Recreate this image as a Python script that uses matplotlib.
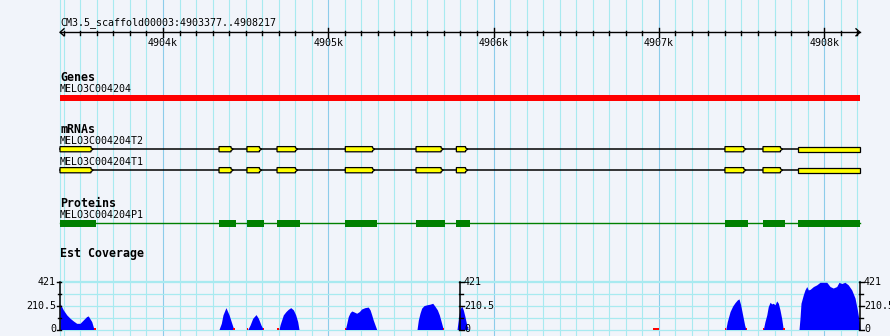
import matplotlib
matplotlib.use("Agg")
import matplotlib.pyplot as plt
from matplotlib.patches import Polygon, Rectangle

# ---------------- data ----------------
seq_name = "CM3.5_scaffold00003"
view_start, view_end = 4903377, 4908217
ruler_major = [4904000, 4905000, 4906000, 4907000, 4908000]
ruler_labels = ["4904k", "4905k", "4906k", "4907k", "4908k"]

gene_name = "MELO3C004204"
transcript_names = ["MELO3C004204T2", "MELO3C004204T1"]
protein_name = "MELO3C004204P1"

mrna_exon_starts = [4903377, 4904339, 4904508, 4904690, 4905103, 4905531, 4905775, 4907400, 4907630, 4907842]
mrna_exon_ends   = [4903578, 4904425, 4904597, 4904815, 4905281, 4905696, 4905844, 4907527, 4907749, 4908217]

cds_starts = [4903377, 4904339, 4904508, 4904690, 4905101, 4905531, 4905773, 4907400, 4907630, 4907842]
cds_ends   = [4903595, 4904442, 4904611, 4904829, 4905295, 4905706, 4905857, 4907539, 4907763, 4908217]

cov_max = 421
cov_ticks = [0, 210.5, 421]
cov_tick_labels = ["0", "210.5", "421"]

cov1_pos = [4903377, 4903380, 4903397, 4903418, 4903438, 4903458, 4903478, 4903498, 4903518, 4903538, 4903548, 4903569, 4903583]
cov1_val = [228, 225, 175, 130, 100, 76, 55, 55, 85, 115, 121, 70, 0]
cov2_pos = [4904339, 4904353, 4904363, 4904381, 4904400, 4904413, 4904423, 4904430]
cov2_val = [0, 55, 130, 195, 130, 70, 25, 0]
cov3_pos = [4904513, 4904527, 4904543, 4904563, 4904577, 4904593, 4904607]
cov3_val = [0, 40, 100, 133, 100, 40, 0]
cov4_pos = [4904702, 4904708, 4904728, 4904744, 4904758, 4904773, 4904789, 4904803, 4904815, 4904823]
cov4_val = [0, 40, 130, 160, 180, 195, 175, 130, 70, 0]
cov5_pos = [4905103, 4905112, 4905121, 4905132, 4905142, 4905151, 4905172, 4905188, 4905202, 4905222, 4905242, 4905253, 4905263, 4905272, 4905283, 4905293]
cov5_val = [0, 55, 115, 150, 165, 160, 145, 160, 183, 195, 200, 175, 130, 85, 40, 0]
cov6_pos = [4905537, 4905545, 4905555, 4905565, 4905579, 4905596, 4905616, 4905632, 4905646, 4905660, 4905672, 4905686, 4905696]
cov6_val = [0, 85, 145, 190, 213, 220, 226, 234, 206, 175, 130, 55, 0]
cov7_pos = [4905779, 4905789, 4905797, 4905807, 4905817, 4905827, 4905838, 4905847]
cov7_val = [0, 115, 180, 210, 175, 115, 40, 0]
cov8_pos = [4907405, 4907414, 4907431, 4907447, 4907461, 4907475, 4907485, 4907495, 4907507, 4907519, 4907527]
cov8_val = [0, 70, 160, 210, 240, 264, 273, 220, 130, 40, 0]
cov9_pos = [4907632, 4907642, 4907653, 4907662, 4907673, 4907683, 4907692, 4907703, 4907713, 4907723, 4907733, 4907743, 4907753]
cov9_val = [0, 70, 130, 204, 243, 228, 234, 220, 255, 234, 175, 100, 0]
cov10_pos = [4907848, 4907854, 4907860, 4907874, 4907884, 4907895, 4907904, 4907915, 4907935, 4907955, 4907975, 4907995, 4908016, 4908036, 4908055, 4908076, 4908090, 4908106, 4908126, 4908146, 4908167, 4908187, 4908201, 4908213, 4908217]
cov10_val = [0, 100, 234, 309, 353, 383, 353, 358, 383, 398, 421, 421, 421, 383, 370, 383, 421, 410, 421, 398, 353, 280, 175, 70, 0]

low_starts = [4903583, 4904425, 4904508, 4904603, 4904692, 4905101, 4905692, 4906965, 4907400, 4907525, 4907628, 4907753]
low_ends   = [4903592, 4904434, 4904516, 4904611, 4904702, 4905107, 4905700, 4907001, 4907405, 4907531, 4907634, 4907761]

# ---------------- style / layout ----------------
W, H = 890, 336
BG = "#F1F4FA"
GRID_MINOR = "#A8EAF0"
GRID_MAJOR = "#8CCCEA"
LEFT_PX, RIGHT_PX = 60, 860
bpp = (view_end - view_start) / (RIGHT_PX - LEFT_PX)   # bp per pixel

def px2bp(x):
    return view_start + (x - LEFT_PX) * bpp

REG = dict(family="DejaVu Sans Mono", fontsize=7.2)
BOLD = dict(family="DejaVu Sans Mono", fontsize=8.4, fontweight="bold")

fig = plt.figure(figsize=(W / 100, H / 100), dpi=100, facecolor=BG)
ax = fig.add_axes([0, 0, 1, 1])
ax.set_xlim(px2bp(0), px2bp(W))
ax.set_ylim(H, 0)
ax.axis("off")
ax.set_facecolor(BG)

# vertical grid lines
first = (view_start // 100 + 1) * 100
g = first
while g <= view_end:
    col = GRID_MAJOR if g % 1000 == 0 else GRID_MINOR
    ax.plot([g, g], [0, H], color=col, lw=0.8, zorder=0)
    g += 100
ax.plot([view_start, view_start], [0, H], color=GRID_MINOR, lw=0.8, zorder=0)

# ---- ruler ----
ax.text(view_start, 25, f"{seq_name}:{view_start}..{view_end}", ha="left", va="baseline", color="black", **REG)
ax.plot([view_start, view_end], [32.3, 32.3], color="black", lw=1.0, zorder=3)
ax.plot([px2bp(64), view_start, px2bp(64)], [28.8, 32.3, 35.8], color="black", lw=1.0, zorder=3)
ax.plot([px2bp(856), view_end, px2bp(856)], [28.8, 32.3, 35.8], color="black", lw=1.0, zorder=3)
t = first
while t < view_end:
    if t % 1000 == 0:
        ax.plot([t, t], [28.3, 36.7], color="black", lw=1.0, zorder=3)
    else:
        ax.plot([t, t], [30.5, 34.5], color="black", lw=1.0, zorder=3)
    t += 100
for pos, lab in zip(ruler_major, ruler_labels):
    ax.text(pos, 46, lab, ha="center", va="baseline", color="black", **REG)

# ---- genes ----
ax.text(view_start, 80.7, "Genes", ha="left", va="baseline", **BOLD)
ax.text(view_start, 91.7, gene_name, ha="left", va="baseline", **REG)
ax.add_patch(Rectangle((view_start, 95), view_end - view_start, 6, facecolor="#FF0000", edgecolor="none", zorder=3))

# ---- mRNAs ----
ax.text(view_start, 132.7, "mRNAs", ha="left", va="baseline", **BOLD)
d = 2.2 * bpp
for name, yc, yl in zip(transcript_names, [149.2, 170.2], [144, 165]):
    ax.text(view_start, yl, name, ha="left", va="baseline", **REG)
    ax.plot([view_start, view_end], [yc, yc], color="black", lw=1.1, zorder=3)
    for s, e in zip(mrna_exon_starts, mrna_exon_ends):
        top, bot = yc - 2.6, yc + 2.6
        if e >= view_end:
            pts = [(s, top), (e, top), (e, bot), (s, bot)]
        else:
            pts = [(s, top), (e - d, top), (e - d, top + 1.2), (e, yc), (e - d, bot - 1.2), (e - d, bot), (s, bot)]
        ax.add_patch(Polygon(pts, closed=True, facecolor="#FFFF00", edgecolor="black", lw=0.9, zorder=4))

# ---- proteins ----
ax.text(view_start, 206.7, "Proteins", ha="left", va="baseline", **BOLD)
ax.text(view_start, 218.3, protein_name, ha="left", va="baseline", **REG)
ax.plot([view_start, view_end], [223.3, 223.3], color="#008000", lw=1.0, zorder=3)
for s, e in zip(cds_starts, cds_ends):
    ax.add_patch(Rectangle((s, 220.3), e - s, 6.3, facecolor="#008000", edgecolor="none", zorder=4))

# ---- coverage ----
ax.text(view_start, 257.5, "Est Coverage", ha="left", va="baseline", **BOLD)

y0_px, ytop_px = 329.5, 282.3
cax = fig.add_axes([LEFT_PX / W, (H - y0_px) / H, (RIGHT_PX - LEFT_PX) / W, (y0_px - ytop_px) / H])
cax.set_xlim(view_start, view_end)
cax.set_ylim(0, cov_max)
cax.axis("off")
cax.patch.set_alpha(0)

for v in [0, cov_max / 4, cov_max / 2, 3 * cov_max / 4, cov_max, cov_max * 1.035]:
    cax.plot([view_start, view_end], [v, v], color=GRID_MINOR, lw=0.9, zorder=0, clip_on=False)

peaks = [(cov1_pos, cov1_val), (cov2_pos, cov2_val), (cov3_pos, cov3_val), (cov4_pos, cov4_val),
         (cov5_pos, cov5_val), (cov6_pos, cov6_val), (cov7_pos, cov7_val), (cov8_pos, cov8_val),
         (cov9_pos, cov9_val), (cov10_pos, cov10_val)]
for p, v in peaks:
    cax.fill_between(p, 0, v, color="#0000FF", lw=0, zorder=3)
for s, e in zip(low_starts, low_ends):
    cax.fill_between([s, e], 0, 14, color="#FF0000", lw=0, zorder=3)

unit = bpp
def draw_axis(xa, side):
    cax.plot([xa, xa], [0, cov_max], color="black", lw=1.1, zorder=5, clip_on=False)
    sgn = -1 if side == "left" else 1
    for v in [0, cov_max / 4, cov_max / 2, 3 * cov_max / 4, cov_max]:
        ln = 3.5 if v in (0, cov_max / 2, cov_max) else 2.5
        cax.plot([xa - sgn * 0.8 * unit, xa + sgn * ln * unit], [v, v], color="black", lw=1.0, zorder=5, clip_on=False)
    for v, lab in zip(cov_ticks, cov_tick_labels):
        cax.text(xa + sgn * 4.0 * unit, v, lab, ha="right" if side == "left" else "left",
                 va="center", color="black", clip_on=False, zorder=6, **REG)

draw_axis(view_start, "left")
draw_axis((view_start + view_end) / 2, "right")
draw_axis(view_end, "right")

fig.savefig("out.png", dpi=100, facecolor=BG)
